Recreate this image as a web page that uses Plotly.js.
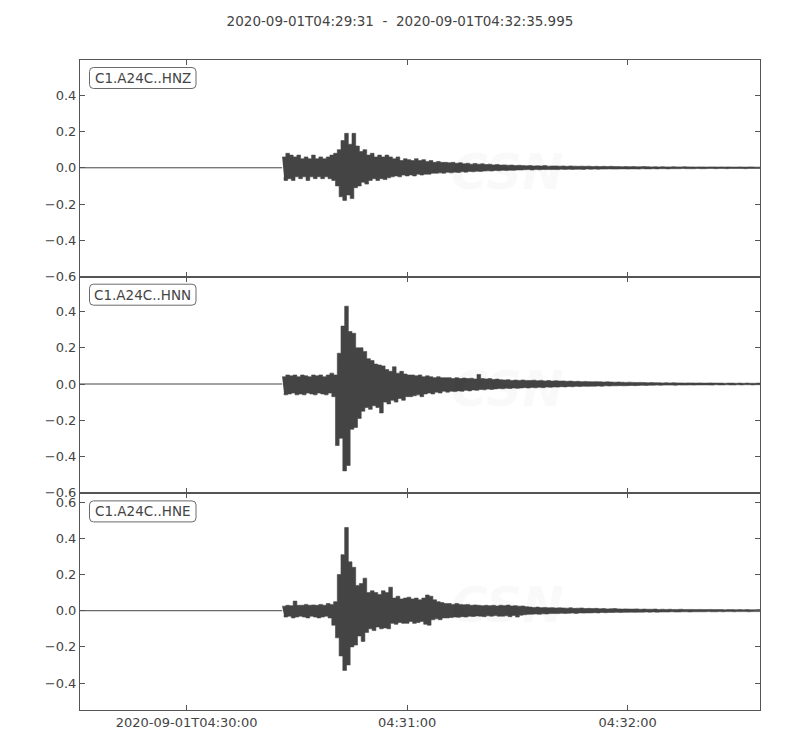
<!DOCTYPE html>
<html>
<head>
<meta charset="utf-8">
<script src="https://cdn.plot.ly/plotly-3.0.1.min.js"></script>
<style>
    html, body { margin: 0; padding: 0; background: #fff; }
    #plot { width: 800px; height: 750px; }
</style>
</head>
<body>
<div id="plot"></div>
<script>
// Window of the record
const startTime = '2020-09-01T04:29:31';
const endTime = '2020-09-01T04:32:35.995';
const onsetSec = 55; // seconds after startTime of the first envelope value

const channels = ['C1.A24C..HNZ', 'C1.A24C..HNN', 'C1.A24C..HNE'];
const xTickVals = ['2020-09-01 04:30:00', '2020-09-01 04:31:00', '2020-09-01 04:32:00'];
const xTickText = ['2020-09-01T04:30:00', '04:31:00', '04:32:00'];
const watermarkLines = ['CENTRO SISMOLÓGICO NACIONAL', 'UNIVERSIDAD DE CHILE'];

// Per-second envelope (max / min), from onsetSec on
const hnzHi = [
    0.06, 0.08, 0.07, 0.06, 0.07, 0.05, 0.06, 0.05, 0.07, 0.05,
    0.06, 0.05, 0.06, 0.07, 0.08, 0.10, 0.15, 0.19, 0.13, 0.19,
    0.12, 0.09, 0.10, 0.07, 0.08, 0.06, 0.07, 0.06, 0.07, 0.06,
    0.05, 0.06, 0.04, 0.05, 0.045, 0.04, 0.05, 0.04, 0.045, 0.035,
    0.04, 0.03, 0.035, 0.03, 0.03, 0.028, 0.03, 0.025, 0.028, 0.022,
    0.025, 0.02, 0.024, 0.02, 0.022, 0.018, 0.02, 0.016, 0.018, 0.015,
    0.016, 0.014, 0.015, 0.012, 0.014,
    0.012, 0.011, 0.012, 0.01, 0.011, 0.01, 0.012, 0.009, 0.01, 0.01,
    0.009, 0.01, 0.008, 0.01, 0.009, 0.008, 0.009, 0.008, 0.009, 0.007,
    0.008, 0.007, 0.008, 0.007, 0.008, 0.007, 0.007, 0.006, 0.007, 0.006,
    0.007, 0.006, 0.006, 0.007, 0.006, 0.005, 0.006, 0.005, 0.006, 0.005,
    0.005, 0.006, 0.005, 0.005, 0.006, 0.005, 0.005, 0.004, 0.005, 0.005,
    0.004, 0.005, 0.005, 0.004, 0.005, 0.004, 0.005, 0.004, 0.004, 0.005,
    0.004, 0.004, 0.005, 0.004, 0.004, 0.004
];
const hnzLo = [
    -0.05, -0.07, -0.06, -0.07, -0.05, -0.06, -0.05, -0.07, -0.05, -0.06,
    -0.05, -0.06, -0.05, -0.06, -0.07, -0.10, -0.16, -0.18, -0.15, -0.17,
    -0.11, -0.10, -0.08, -0.09, -0.07, -0.06, -0.07, -0.06, -0.065, -0.055,
    -0.05, -0.045, -0.05, -0.04, -0.045, -0.04, -0.045, -0.035, -0.04, -0.035,
    -0.035, -0.03, -0.03, -0.028, -0.03, -0.025, -0.028, -0.024, -0.026, -0.022,
    -0.024, -0.02, -0.022, -0.019, -0.02, -0.018, -0.017, -0.018, -0.015, -0.016,
    -0.014, -0.015, -0.013, -0.014, -0.012,
    -0.012, -0.011, -0.01, -0.012, -0.01, -0.011, -0.009, -0.01, -0.01, -0.009,
    -0.01, -0.008, -0.009, -0.008, -0.009, -0.008, -0.008, -0.009, -0.007, -0.008,
    -0.007, -0.008, -0.007, -0.007, -0.006, -0.007, -0.007, -0.006, -0.006, -0.007,
    -0.006, -0.006, -0.007, -0.005, -0.006, -0.006, -0.005, -0.006, -0.005, -0.005,
    -0.006, -0.005, -0.005, -0.005, -0.004, -0.005, -0.005, -0.005, -0.004, -0.005,
    -0.005, -0.004, -0.004, -0.005, -0.004, -0.004, -0.005, -0.004, -0.004, -0.004,
    -0.004, -0.005, -0.004, -0.004, -0.004, -0.004
];

const hnnHi = [
    0.04, 0.05, 0.045, 0.05, 0.04, 0.05, 0.045, 0.04, 0.05, 0.045,
    0.05, 0.04, 0.05, 0.06, 0.05, 0.17, 0.32, 0.43, 0.29, 0.28,
    0.20, 0.20, 0.18, 0.14, 0.13, 0.11, 0.105, 0.10, 0.08, 0.07,
    0.095, 0.06, 0.07, 0.055, 0.05, 0.05, 0.045, 0.05, 0.04, 0.045,
    0.04, 0.035, 0.04, 0.035, 0.035, 0.035, 0.03, 0.035, 0.03, 0.033,
    0.03, 0.032, 0.028, 0.053, 0.03, 0.028, 0.03, 0.025, 0.027, 0.024,
    0.022, 0.024, 0.02, 0.022, 0.02,
    0.022, 0.02, 0.019, 0.021, 0.018, 0.02, 0.017, 0.019, 0.016, 0.018,
    0.016, 0.017, 0.015, 0.016, 0.014, 0.015, 0.013, 0.014, 0.013, 0.012,
    0.013, 0.012, 0.011, 0.012, 0.011, 0.01, 0.011, 0.01, 0.009, 0.01,
    0.009, 0.008, 0.009, 0.008, 0.007, 0.008, 0.007, 0.007, 0.006, 0.007,
    0.006, 0.007, 0.006, 0.006, 0.005, 0.006, 0.006, 0.005, 0.006, 0.005,
    0.005, 0.006, 0.005, 0.005, 0.005, 0.004, 0.005, 0.005, 0.004, 0.005,
    0.004, 0.005, 0.004, 0.004, 0.005, 0.004
];
const hnnLo = [
    -0.05, -0.06, -0.055, -0.05, -0.06, -0.055, -0.06, -0.05, -0.055, -0.06,
    -0.05, -0.055, -0.06, -0.05, -0.07, -0.34, -0.30, -0.48, -0.45, -0.25,
    -0.24, -0.19, -0.15, -0.13, -0.14, -0.12, -0.13, -0.16, -0.10, -0.11,
    -0.09, -0.10, -0.08, -0.09, -0.07, -0.07, -0.065, -0.06, -0.07, -0.055,
    -0.05, -0.055, -0.045, -0.05, -0.04, -0.045, -0.04, -0.042, -0.038, -0.04,
    -0.035, -0.038, -0.033, -0.035, -0.03, -0.032, -0.028, -0.03, -0.027, -0.025,
    -0.026, -0.023, -0.025, -0.022, -0.024,
    -0.022, -0.02, -0.022, -0.019, -0.021, -0.018, -0.02, -0.017, -0.018, -0.016,
    -0.017, -0.015, -0.016, -0.014, -0.015, -0.013, -0.014, -0.012, -0.013, -0.012,
    -0.012, -0.011, -0.012, -0.01, -0.011, -0.01, -0.01, -0.009, -0.01, -0.009,
    -0.008, -0.009, -0.008, -0.007, -0.008, -0.007, -0.007, -0.006, -0.007, -0.006,
    -0.006, -0.006, -0.007, -0.005, -0.006, -0.006, -0.005, -0.006, -0.005, -0.005,
    -0.005, -0.005, -0.006, -0.004, -0.005, -0.005, -0.004, -0.005, -0.005, -0.004,
    -0.005, -0.004, -0.004, -0.005, -0.004, -0.004
];

const hneHi = [
    0.025, 0.03, 0.028, 0.053, 0.03, 0.03, 0.035, 0.03, 0.032, 0.03,
    0.035, 0.03, 0.04, 0.035, 0.05, 0.20, 0.31, 0.46, 0.27, 0.24,
    0.14, 0.15, 0.18, 0.10, 0.11, 0.10, 0.09, 0.11, 0.10, 0.13,
    0.07, 0.08, 0.065, 0.07, 0.075, 0.065, 0.07, 0.06, 0.07, 0.087,
    0.08, 0.06, 0.05, 0.045, 0.04, 0.04, 0.035, 0.04, 0.035, 0.033,
    0.035, 0.03, 0.032, 0.03, 0.028, 0.03, 0.028, 0.03, 0.026, 0.03,
    0.028, 0.031, 0.026, 0.028, 0.025,
    0.026, 0.022, 0.02, 0.018, 0.02, 0.017, 0.018, 0.016, 0.017, 0.015,
    0.016, 0.015, 0.014, 0.016, 0.013, 0.014, 0.015, 0.012, 0.013, 0.012,
    0.013, 0.011, 0.012, 0.01, 0.011, 0.012, 0.01, 0.009, 0.01, 0.009,
    0.009, 0.01, 0.008, 0.009, 0.008, 0.008, 0.009, 0.007, 0.008, 0.007,
    0.008, 0.007, 0.007, 0.008, 0.006, 0.007, 0.007, 0.006, 0.007, 0.006,
    0.006, 0.007, 0.006, 0.006, 0.006, 0.005, 0.006, 0.006, 0.005, 0.006,
    0.005, 0.006, 0.005, 0.005, 0.006, 0.005
];
const hneLo = [
    -0.025, -0.035, -0.03, -0.04, -0.035, -0.03, -0.035, -0.04, -0.03, -0.035,
    -0.04, -0.035, -0.03, -0.04, -0.08, -0.15, -0.25, -0.33, -0.30, -0.20,
    -0.19, -0.14, -0.17, -0.12, -0.10, -0.11, -0.09, -0.10, -0.095, -0.10,
    -0.07, -0.075, -0.065, -0.07, -0.07, -0.06, -0.07, -0.065, -0.06, -0.075,
    -0.08, -0.05, -0.045, -0.05, -0.04, -0.04, -0.038, -0.035, -0.036, -0.033,
    -0.035, -0.03, -0.032, -0.029, -0.03, -0.033, -0.028, -0.03, -0.027, -0.03,
    -0.03, -0.028, -0.033, -0.026, -0.035,
    -0.025, -0.022, -0.02, -0.019, -0.018, -0.02, -0.017, -0.018, -0.016, -0.015,
    -0.016, -0.014, -0.015, -0.014, -0.013, -0.015, -0.012, -0.013, -0.012, -0.012,
    -0.011, -0.012, -0.01, -0.011, -0.01, -0.01, -0.009, -0.01, -0.009, -0.009,
    -0.008, -0.009, -0.008, -0.008, -0.007, -0.008, -0.007, -0.008, -0.007, -0.007,
    -0.007, -0.006, -0.007, -0.007, -0.006, -0.006, -0.007, -0.006, -0.006, -0.006,
    -0.006, -0.005, -0.006, -0.006, -0.005, -0.006, -0.005, -0.005, -0.006, -0.005,
    -0.005, -0.005, -0.006, -0.005, -0.005, -0.005
];

const envelopes = [[hnzHi, hnzLo], [hnnHi, hnnLo], [hneHi, hneLo]];

const baseMs = Date.parse(startTime + 'Z');
function toDate(sec) {
    return new Date(baseMs + sec * 1000).toISOString().slice(0, 23).replace('T', ' ');
}

const traceColor = '#444444';

// Quiet pre-event line plus a stepped max/min band (one step per second),
// which reads like the dense 100 Hz trace of the original
function buildTraces(hi, lo, idx) {
    const xa = idx === 0 ? 'x' : 'x' + (idx + 1);
    const ya = idx === 0 ? 'y' : 'y' + (idx + 1);

    const quiet = {
        x: [toDate(0), toDate(onsetSec)],
        y: [0, 0],
        type: 'scatter',
        mode: 'lines',
        line: { color: traceColor, width: 1 },
        hoverinfo: 'skip',
        xaxis: xa,
        yaxis: ya
    };

    const bx = [];
    const by = [];
    hi.forEach((v, i) => {
        bx.push(toDate(onsetSec + i));
        by.push(v);
    });
    for (let i = lo.length - 1; i >= 0; i--) {
        bx.push(toDate(onsetSec + i + 0.5));
        by.push(lo[i]);
    }
    const band = {
        x: bx,
        y: by,
        type: 'scatter',
        mode: 'lines',
        fill: 'toself',
        fillcolor: traceColor,
        line: { color: traceColor, width: 0.6, shape: 'hv' },
        hoverinfo: 'skip',
        xaxis: xa,
        yaxis: ya
    };
    return [quiet, band];
}

const traces = envelopes.flatMap(([hi, lo], i) => buildTraces(hi, lo, i));

const fontFamily = 'DejaVu Sans, sans-serif';
const frameColor = '#555555';
const yRanges = [[-0.601, 0.595], [-0.604, 0.593], [-0.549, 0.649]];
const domains = [[2 / 3, 1], [1 / 3, 2 / 3], [0, 1 / 3]];

const layout = {
    width: 800,
    height: 750,
    margin: { l: 80, r: 40, t: 60, b: 40 },
    paper_bgcolor: '#FFFFFF',
    plot_bgcolor: '#FFFFFF',
    showlegend: false,
    font: { family: fontFamily, size: 13, color: '#444444' },
    title: {
        text: startTime + '\u00a0\u00a0-\u00a0\u00a0' + endTime,
        font: { family: fontFamily, size: 13.5, color: '#444444' },
        x: 0.5,
        xref: 'container',
        xanchor: 'center',
        y: 1 - 21 / 750,
        yref: 'container',
        yanchor: 'middle'
    },
    annotations: [],
    shapes: []
};

const toPaperX = px => (px - 80) / 680;
const toPaperY = py => (710 - py) / 650;
const faint = 'rgba(0,0,0,0.022)';

// Rounded label box, given in page pixels and turned into a paper-space path
function roundedBox(x0, y0, x1, y1, r) {
    const X = toPaperX, Y = toPaperY;
    return `M ${X(x0 + r)},${Y(y0)} L ${X(x1 - r)},${Y(y0)} Q ${X(x1)},${Y(y0)} ${X(x1)},${Y(y0 + r)} ` +
        `L ${X(x1)},${Y(y1 - r)} Q ${X(x1)},${Y(y1)} ${X(x1 - r)},${Y(y1)} ` +
        `L ${X(x0 + r)},${Y(y1)} Q ${X(x0)},${Y(y1)} ${X(x0)},${Y(y1 - r)} ` +
        `L ${X(x0)},${Y(y0 + r)} Q ${X(x0)},${Y(y0)} ${X(x0 + r)},${Y(y0)} Z`;
}

channels.forEach((name, i) => {
    const xKey = i === 0 ? 'xaxis' : 'xaxis' + (i + 1);
    const yKey = i === 0 ? 'yaxis' : 'yaxis' + (i + 1);
    layout[xKey] = {
        type: 'date',
        range: [toDate(0), endTime.replace('T', ' ')],
        anchor: i === 0 ? 'y' : 'y' + (i + 1),
        matches: i === 0 ? undefined : 'x',
        tickmode: 'array',
        tickvals: xTickVals,
        ticktext: xTickText,
        showticklabels: i === channels.length - 1,
        ticks: 'inside',
        ticklen: 5,
        tickcolor: frameColor,
        showline: true,
        linecolor: frameColor,
        linewidth: 1,
        mirror: 'allticks',
        showgrid: false,
        zeroline: false,
        fixedrange: true,
        tickfont: { family: fontFamily, size: 13, color: '#444444' }
    };
    layout[yKey] = {
        domain: domains[i],
        range: yRanges[i],
        anchor: i === 0 ? 'x' : 'x' + (i + 1),
        tick0: 0,
        dtick: 0.2,
        tickformat: '.1f',
        ticks: 'inside',
        ticklen: 5,
        tickcolor: frameColor,
        showline: true,
        linecolor: frameColor,
        linewidth: 1,
        mirror: 'allticks',
        showgrid: false,
        zeroline: false,
        fixedrange: true,
        tickfont: { family: fontFamily, size: 13, color: '#444444' }
    };

    // Channel label in a rounded box in the upper left of each panel
    const top = 60 + i * 216.7 + 7.5;
    layout.shapes.push({
        type: 'path',
        xref: 'paper',
        yref: 'paper',
        path: roundedBox(89.5, top, 196, top + 21, 4),
        line: { color: '#6a6a6a', width: 1 },
        fillcolor: '#FFFFFF',
        layer: 'above'
    });
    layout.annotations.push({
        text: name,
        xref: 'paper',
        yref: 'paper',
        x: toPaperX(142.75),
        y: toPaperY(top + 10.5),
        xanchor: 'center',
        yanchor: 'middle',
        showarrow: false,
        font: { family: fontFamily, size: 13.5, color: '#444444' }
    });

    // Faint CSN watermark
    const shift = i * 216.7;
    layout.annotations.push({
        text: '<b><i>CSN</i></b>',
        xref: 'paper',
        yref: 'paper',
        x: toPaperX(507),
        y: toPaperY(172 + shift),
        xanchor: 'center',
        yanchor: 'middle',
        showarrow: false,
        font: { family: fontFamily, size: 50, color: faint }
    });
    watermarkLines.forEach((line, j) => {
        layout.annotations.push({
            text: '<i>' + line + '</i>',
            xref: 'paper',
            yref: 'paper',
            x: toPaperX(532),
            y: toPaperY(222 + j * 21 + shift),
            xanchor: 'left',
            yanchor: 'middle',
            showarrow: false,
            font: { family: 'DejaVu Sans Condensed, ' + fontFamily, size: 14, color: faint }
        });
    });
});

const config = {
    responsive: false,
    displayModeBar: false,
    staticPlot: true
};

Plotly.newPlot('plot', traces, layout, config);
</script>
</body>
</html>
